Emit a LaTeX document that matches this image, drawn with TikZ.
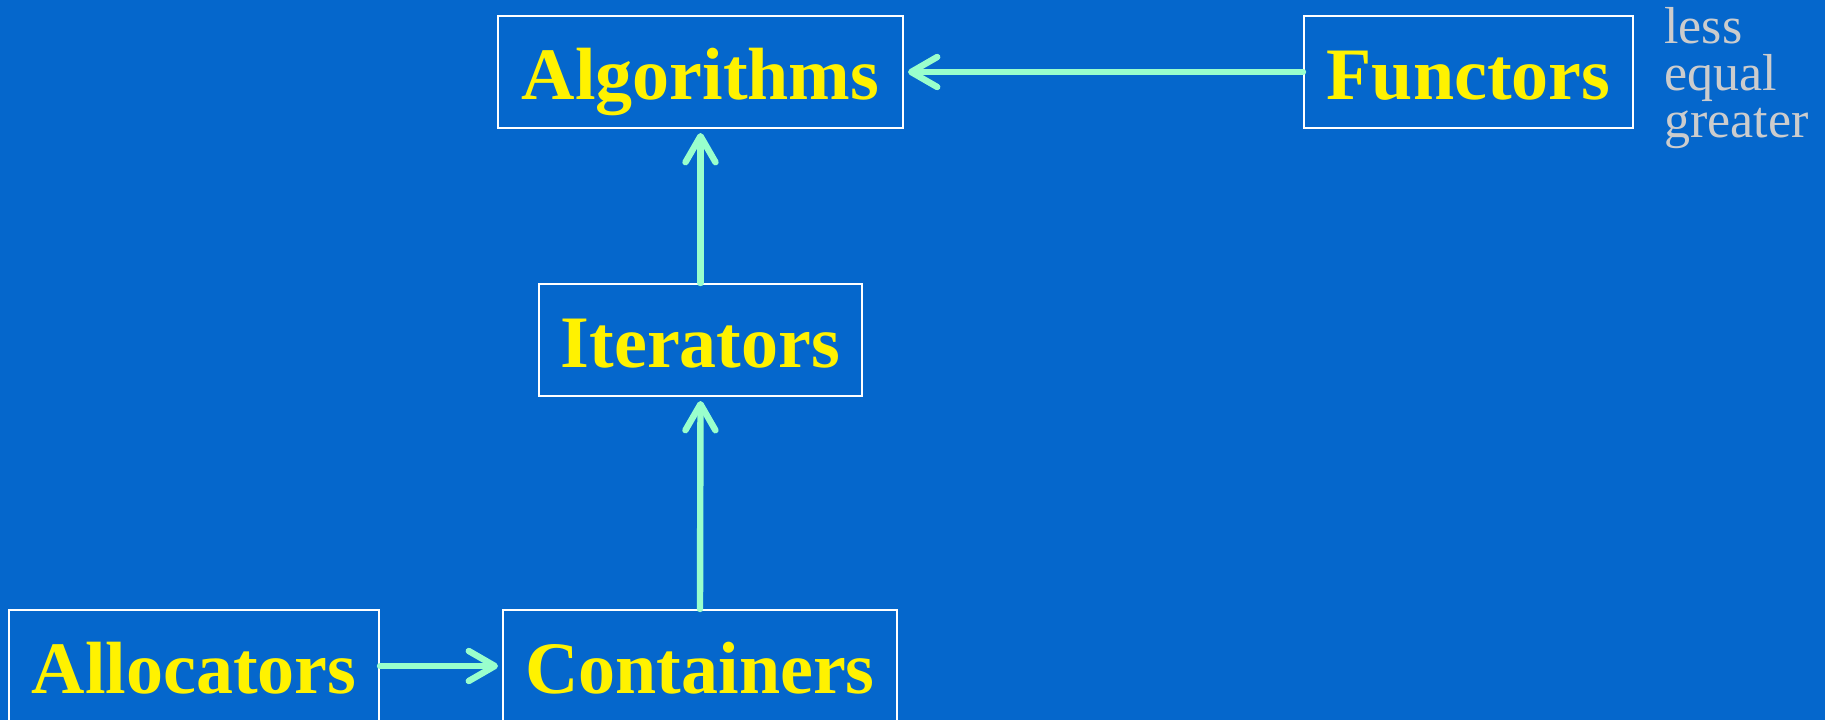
\documentclass[tikz,border=0pt]{standalone}
\usepackage{fontspec}
\setmainfont{Liberation Serif}
\usepackage{tikz}
\usetikzlibrary{arrows.meta}
\usepackage{xcolor}
\definecolor{slideblue}{RGB}{5,103,204}
\definecolor{linkgreen}{RGB}{153,255,204}
\definecolor{notegray}{RGB}{204,204,204}

\begin{document}
\begin{tikzpicture}[x=1pt,y=1pt,line cap=round,
  part/.style={draw=white,line width=1pt,inner sep=0pt,minimum height=56pt,
    text=yellow,font=\fontsize{37}{40}\selectfont\bfseries,
    text height=28pt,text depth=1pt},
  link/.style={draw=linkgreen,line width=3.2pt,
    -{Straight Barb[round,length=13pt,width=15pt]},shorten >=2pt}]
\useasboundingbox (0,0) rectangle (912.5,360);
\fill[slideblue] (0,0) rectangle (912.5,360);
\node[part,minimum width=202.5pt] (alg) at (350.25,324) {Algorithms};
\node[part,minimum width=164.5pt] (fun) at (734.25,324) {Functors};
\node[part,minimum width=161.5pt] (itr) at (350.25,190) {Iterators};
\node[part,minimum width=185pt] (all) at (97,27) {Allocators};
\node[part,minimum width=197pt] (con) at (350,27) {Containers};
% comparison functors, last line on the base
\node[anchor=base west,inner sep=0pt,align=left,text=notegray,
  font=\fontsize{26}{23.5}\selectfont] (cmp) at (832,291.5) {less\\equal\\greater};
\draw[link] (fun.west) -- (alg.east);
\draw[link] (itr.north) -- (alg.south);
\draw[link] (con.north) -- (itr.south);
\draw[link] (all.east) -- (con.west);
\end{tikzpicture}
\end{document}
